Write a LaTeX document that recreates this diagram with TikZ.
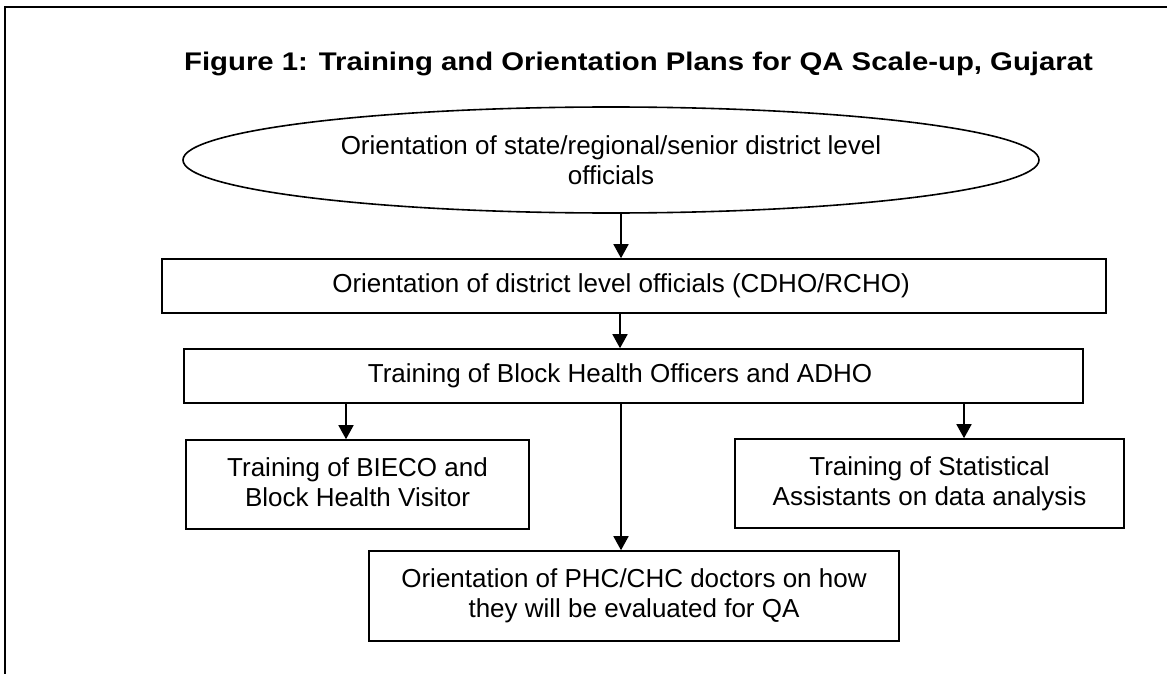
\documentclass[tikz,border=0pt]{standalone}
\usepackage{fontspec}
\setmainfont{Liberation Sans}
\usepackage{graphicx}
\usetikzlibrary{arrows.meta,shapes.geometric}
\begin{document}
\begin{tikzpicture}[x=1pt,y=-1pt,
  bodytext/.style={font=\fontsize{26}{29.9}\selectfont, align=center, inner sep=0pt},
  boxnode/.style={bodytext, draw, line width=1.6pt},
  oval/.style={bodytext, draw, ellipse, line width=1.6pt},
  arr/.style={line width=1.6pt, -{Triangle[length=14pt,width=15pt]}},
  outerframe/.style={line width=2pt},
  titletext/.style={font=\fontsize{25.5}{30}\selectfont\bfseries, inner sep=0pt}
]
\fill[white] (0,0) rectangle (1167,674);
\useasboundingbox (0,0) rectangle (1167,674);
\draw[outerframe] (5,674) -- (5,7) -- (1167,7);

\node[titletext, anchor=base] (title) at (638.5,71)
  {\scalebox{1.15}[1]{Figure 1: Training and Orientation Plans for QA Scale-up, Gujarat}};

\node[oval, minimum width=856, minimum height=106] (e1) at (611,160)
  {Orientation of state/regional/senior district level\\officials};

\node[boxnode, minimum width=944, minimum height=54] (b2) at (634,286)
  {Orientation of district level officials (CDHO/RCHO)\hspace*{26pt}};

\node[boxnode, minimum width=899, minimum height=54] (b3) at (633.5,376)
  {Training of Block Health Officers and ADHO\hspace*{27pt}};

\node[boxnode, minimum width=343, minimum height=89] (b4) at (357.5,484.5)
  {Training of BIECO and\\Block Health Visitor\vphantom{y}};

\node[boxnode, minimum width=389, minimum height=89] (b5) at (929.5,483.5)
  {Training of Statistical\\Assistants on data analysis};

\node[boxnode, minimum width=530, minimum height=90] (b6) at (634,596)
  {Orientation of PHC/CHC doctors on how\\they will be evaluated for QA};

\coordinate (x1) at ([xshift=-13pt]b2.north);
\coordinate (x2) at ([xshift=-13.5pt]b3.north);
\coordinate (x3) at ([xshift=-11.5pt]b4.north);
\coordinate (x4) at ([xshift=34.5pt]b5.north);
\coordinate (x5) at ([xshift=-13pt]b6.north);

\draw[arr] (x1 |- e1.south) -- (x1);
\draw[arr] (x2 |- b2.south) -- (x2);
\draw[arr] (x3 |- b3.south) -- (x3);
\draw[arr] (x4 |- b3.south) -- (x4);
\draw[arr] (x5 |- b3.south) -- (x5);
\end{tikzpicture}
\end{document}
